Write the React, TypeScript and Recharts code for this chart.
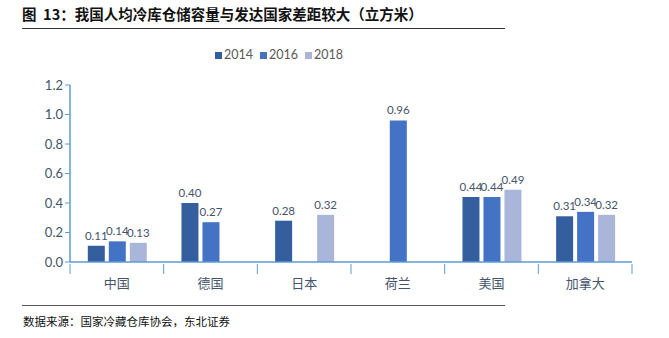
import { BarChart, Bar, XAxis, YAxis, LabelList } from "recharts";

const categories = ["中国", "德国", "日本", "荷兰", "美国", "加拿大"];
const values2014 = [0.11, 0.4, 0.28, null, 0.44, 0.31];
const values2016 = [0.14, 0.27, null, 0.96, 0.44, 0.34];
const values2018 = [0.13, null, 0.32, null, 0.49, 0.32];
const yTicks = [0, 0.2, 0.4, 0.6, 0.8, 1.0, 1.2];

const seriesList = [
  { key: "y2014", name: "2014", color: "#355E9E" },
  { key: "y2016", name: "2016", color: "#4472C4" },
  { key: "y2018", name: "2018", color: "#A9B6DA" },
];

const data = categories.map((c, i) => ({
  name: c,
  y2014: values2014[i],
  y2016: values2016[i],
  y2018: values2018[i],
}));

const AXIS = "#5B9BD5";
const TEXT = "#44546A";
const NUM_FONT = "Lato, 'Open Sans', sans-serif";
const PLOT_LEFT = 70;
const PLOT_RIGHT = 632;
const BAND = (PLOT_RIGHT - PLOT_LEFT) / categories.length;

function CategoryTick(props: any) {
  const { x, y, payload, index } = props;
  const left = x - BAND / 2;
  return (
    <g>
      <line x1={left} x2={left} y1={y - 6} y2={y + 4} stroke={AXIS} strokeWidth={1} />
      {index === categories.length - 1 && (
        <line x1={x + BAND / 2} x2={x + BAND / 2} y1={y - 6} y2={y + 4} stroke={AXIS} strokeWidth={1} />
      )}
      <text
        x={x}
        y={y + 18}
        textAnchor="middle"
        fill={TEXT}
        fontSize={13}
        fontFamily="'Noto Sans CJK SC', sans-serif"
      >
        {payload.value}
      </text>
    </g>
  );
}

const fmt = (v: any) => (v == null ? "" : Number(v).toFixed(2));

export default function App() {
  return (
    <div
      style={{
        position: "absolute",
        left: 0,
        top: 0,
        width: 669,
        height: 338,
        background: "#fff",
        fontFamily: "'Noto Sans CJK SC', sans-serif",
      }}
    >
      <div
        style={{
          position: "absolute",
          left: 22,
          top: 4,
          fontSize: 14.5,
          fontWeight: 700,
          color: "#111",
          whiteSpace: "nowrap",
          lineHeight: "20px",
        }}
      >
        图&nbsp;&nbsp;13：我国人均冷库仓储容量与发达国家差距较大（立方米）
      </div>
      <div style={{ position: "absolute", left: 22, top: 28, width: 483, height: 1, background: "#333" }} />

      <div
        style={{
          position: "absolute",
          left: 215,
          top: 47,
          display: "flex",
          gap: 7,
          fontSize: 12.5,
          color: "#595959",
          fontFamily: NUM_FONT,
          lineHeight: "16px",
        }}
      >
        {seriesList.map((s) => (
          <div key={s.key} style={{ display: "flex", alignItems: "center", gap: 2 }}>
            <span style={{ width: 7, height: 7, background: s.color, display: "inline-block" }} />
            <span>{s.name}</span>
          </div>
        ))}
      </div>

      <div style={{ position: "absolute", left: 0, top: 0 }}>
        <BarChart
          width={669}
          height={300}
          data={data}
          margin={{ top: 85, right: 669 - PLOT_RIGHT, bottom: 8, left: 0 }}
          barCategoryGap="19%"
          barGap={4}
        >
          <YAxis
            width={PLOT_LEFT}
            domain={[0, 1.2]}
            ticks={yTicks}
            tickFormatter={(v: number) => v.toFixed(1)}
            axisLine={{ stroke: AXIS, strokeWidth: 1.5 }}
            tickLine={{ stroke: AXIS }}
            tickSize={5}
            tick={{ fill: TEXT, fontSize: 13, fontFamily: NUM_FONT }}
            interval={0}
          />
          <XAxis
            dataKey="name"
            height={30}
            axisLine={{ stroke: AXIS, strokeWidth: 1.5 }}
            tickLine={false}
            tick={<CategoryTick />}
            interval={0}
          />
          {seriesList.map((s) => (
            <Bar key={s.key} dataKey={s.key} name={s.name} fill={s.color} isAnimationActive={false}>
              <LabelList
                dataKey={s.key}
                position="top"
                offset={6}
                formatter={fmt}
                fill={TEXT}
                fontSize={11.5}
                fontFamily={NUM_FONT}
              />
            </Bar>
          ))}
        </BarChart>
      </div>

      <div style={{ position: "absolute", left: 22, top: 305, width: 483, height: 1, background: "#555" }} />
      <div
        style={{
          position: "absolute",
          left: 23,
          top: 313,
          fontSize: 11.5,
          color: "#111",
          whiteSpace: "nowrap",
          lineHeight: "16px",
        }}
      >
        数据来源：国家冷藏仓库协会，东北证券
      </div>
    </div>
  );
}
